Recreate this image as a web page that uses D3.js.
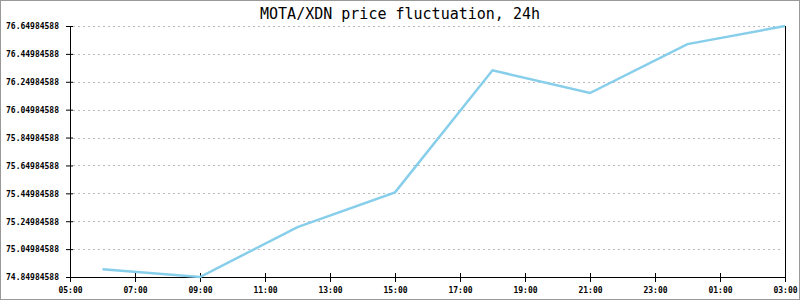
<!DOCTYPE html>
<html>
<head>
<meta charset="utf-8">
<script src="https://cdn.jsdelivr.net/npm/d3@7"></script>
<style>
  body { margin: 0; background: #fff; }
  svg { display: block; }
  .tick-label { font-family: "DejaVu Sans Mono", monospace; font-size: 8px; font-weight: bold; fill: #000; }
</style>
</head>
<body>
<svg id="viz"></svg>
<script>
var width = 800;
var height = 300;

// data
var times = ["06:00", "09:00", "12:00", "15:00", "18:00", "21:00", "00:00", "03:00"];
var prices = [74.905, 74.84984588, 75.208, 75.457, 76.332, 76.169, 76.520, 76.64984588];
var xTickLabels = ["05:00", "07:00", "09:00", "11:00", "13:00", "15:00", "17:00", "19:00", "21:00", "23:00", "01:00", "03:00"];
var yTicks = [74.84984588, 75.04984588, 75.24984588, 75.44984588, 75.64984588,
              75.84984588, 76.04984588, 76.24984588, 76.44984588, 76.64984588];
var title = "MOTA/XDN price fluctuation, 24h";

// plot edges ("top" is taken by window.top)
var plotLeft = 70, plotRight = 785, plotTop = 26, plotBottom = 277;

var svg = d3.select("#viz")
    .attr("width", width)
    .attr("height", height);

// 05:00 starts the 24h window, earlier hours belong to next day
function toDate(s) {
    var h = +s.split(":")[0];
    var m = +s.split(":")[1];
    return new Date(2020, 0, h < 5 ? 2 : 1, h, m);
}

var x = d3.scaleTime()
    .domain([toDate("05:00"), toDate("03:00")])
    .range([plotLeft, plotRight]);

var y = d3.scaleLinear()
    .domain([yTicks[0], yTicks[yTicks.length - 1]])
    .range([plotBottom, plotTop]);

// outer border
svg.append("rect")
    .attr("x", 0.5).attr("y", 0.5)
    .attr("width", width - 1).attr("height", height - 1)
    .attr("fill", "#fff")
    .attr("stroke", "#999");

// grid
svg.append("g").selectAll("line")
    .data(yTicks.slice(1))
    .enter().append("line")
    .attr("x1", plotLeft + 3)
    .attr("x2", plotRight - 4)
    .attr("y1", function (d) { return Math.round(y(d)) + 0.5; })
    .attr("y2", function (d) { return Math.round(y(d)) + 0.5; })
    .style("stroke", "#bbb")
    .style("stroke-dasharray", "2,3");

// y axis
var yAxis = svg.append("g")
    .attr("transform", "translate(" + plotLeft + ",0)")
    .call(d3.axisLeft(y).tickValues(yTicks).tickSize(0).tickPadding(11)
        .tickFormat(function (d) { return d.toFixed(8); }));
yAxis.select(".domain").remove();
yAxis.selectAll("text").attr("class", "tick-label").attr("dy", "0.35em");
yAxis.selectAll(".tick").append("line")
    .attr("x1", -4).attr("x2", 3)
    .style("stroke", "#000");

// x axis
var xAxis = svg.append("g")
    .attr("transform", "translate(0," + plotBottom + ")")
    .call(d3.axisBottom(x).tickValues(xTickLabels.map(toDate)).tickSize(0).tickPadding(10)
        .tickFormat(d3.timeFormat("%H:%M")));
xAxis.select(".domain").remove();
xAxis.selectAll("text").attr("class", "tick-label");
xAxis.selectAll(".tick").append("line")
    .attr("y1", -4).attr("y2", 5)
    .style("stroke", "#000");

// axis lines
svg.append("line")
    .attr("x1", plotLeft + 0.5).attr("x2", plotLeft + 0.5)
    .attr("y1", plotTop).attr("y2", plotBottom)
    .style("stroke", "#000");
svg.append("line")
    .attr("x1", plotRight + 0.5).attr("x2", plotRight + 0.5)
    .attr("y1", plotTop).attr("y2", plotBottom)
    .style("stroke", "#000");
svg.append("line")
    .attr("x1", plotLeft).attr("x2", plotRight + 1)
    .attr("y1", plotBottom + 0.5).attr("y2", plotBottom + 0.5)
    .style("stroke", "#000");

// price line
var line = d3.line()
    .x(function (d, i) { return x(toDate(times[i])); })
    .y(function (d) { return y(d); });

svg.append("path")
    .datum(prices)
    .attr("d", line)
    .attr("fill", "none")
    .style("stroke", "#87CEEB")
    .style("stroke-width", 2.5);

// title
svg.append("text")
    .attr("x", width / 2)
    .attr("y", 19)
    .attr("text-anchor", "middle")
    .style("font-family", "'DejaVu Sans Mono', monospace")
    .style("font-size", "15px")
    .text(title);
</script>
</body>
</html>
